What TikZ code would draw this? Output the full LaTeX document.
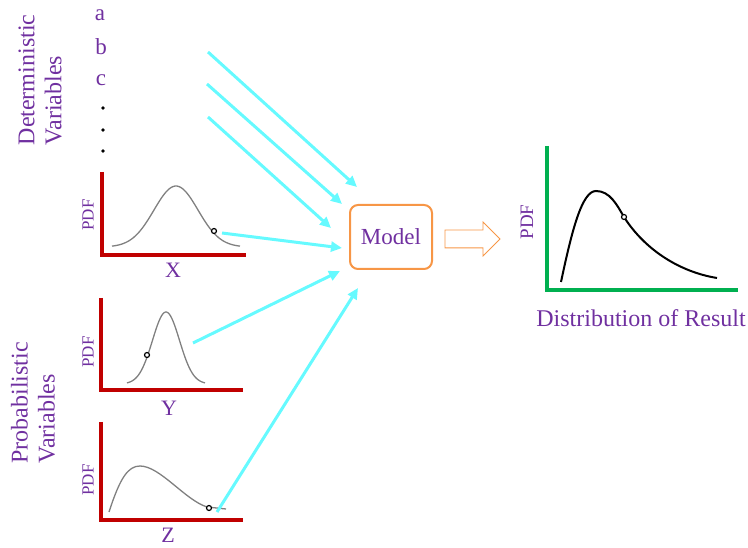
\documentclass[tikz,border=0pt]{standalone}
\usepackage{fontspec}
\setmainfont{Liberation Serif}
\usepackage{xcolor}
\usetikzlibrary{arrows.meta, shapes.arrows}

\definecolor{labelpurple}{RGB}{112,48,160}
\definecolor{axisred}{RGB}{192,0,0}
\definecolor{axisgreen}{RGB}{0,176,80}
\definecolor{modelorange}{RGB}{247,150,70}
\definecolor{feedcyan}{RGB}{102,250,255}

\begin{document}
\begin{tikzpicture}[
    x=1pt, y=-1pt,
    lbl/.style={
      text=labelpurple,
      font=\fontsize{23}{27}\selectfont,
      inner sep=0pt
    },
    side/.style={
      lbl,
      font=\fontsize{24}{27}\selectfont,
      rotate=90,
      align=left
    },
    pdf/.style={
      text=labelpurple,
      font=\fontsize{17}{19}\selectfont,
      rotate=90,
      inner sep=0pt
    },
    varname/.style={
      text=labelpurple,
      font=\fontsize{22}{24}\selectfont,
      inner sep=0pt
    },
    redaxis/.style={
      draw=axisred,
      line width=4pt
    },
    greenaxis/.style={
      draw=axisgreen,
      line width=4pt
    },
    curve/.style={
      draw=black!50,
      line width=1.3pt
    },
    pt/.style={
      circle,
      draw=black,
      fill=white,
      line width=1.2pt,
      inner sep=0pt,
      minimum size=5pt
    },
    model/.style={
      draw=modelorange,
      line width=2pt,
      rounded corners=8pt,
      minimum width=82pt,
      minimum height=64pt,
      text=labelpurple,
      font=\fontsize{23}{27}\selectfont
    },
    feed/.style={
      -{Triangle[length=11pt, width=10pt]},
      line width=3pt,
      draw=feedcyan
    }
  ]

    \useasboundingbox (0,0) rectangle (748,548);

    % Deterministic inputs
    \node[side] (detlabel) at (40,80) {Deterministic\\Variables};
    \node[lbl] (va) at (100,15) {a};
    \node[lbl] (vb) at (101,47) {b};
    \node[lbl] (vc) at (101,80) {c};
    \foreach \y in {108,130,151}
      \fill (103,\y) circle (1.8pt);

    % Probabilistic inputs
    \node[side] (problabel) at (33,403) {Probabilistic\\Variables};

    % X
    \draw[redaxis] (102,172) -- (102,255) -- (246,255);
    \draw[curve] plot[domain=112:240, samples=60, smooth] (\x, {247-61*exp(-((\x-176)^2)/(2*22^2))});
    \node[pt] (xdot) at (214,231) {};
    \node[pdf] (xpdf) at (88,215) {PDF};
    \node[varname] (xname) at (173,270) {X};

    % Y
    \draw[redaxis] (101,298) -- (101,390) -- (243,390);
    \draw[curve] plot[domain=127:205, samples=60, smooth] (\x, {384-72*exp(-((\x-166)^2)/(2*13.5^2))});
    \node[pt] (ydot) at (147,355) {};
    \node[pdf] (ypdf) at (88,352) {PDF};
    \node[varname] (yname) at (169,408) {Y};

    % Z
    \draw[redaxis] (101,422) -- (101,520) -- (243,520);
    \draw[curve] (109,512) .. controls (120,478) and (128,466) .. (140,466)
      .. controls (160,466) and (185,500) .. (207,507) -- (226,509);
    \node[pt] (zdot) at (209,508) {};
    \node[pdf] (zpdf) at (88,480) {PDF};
    \node[varname] (zname) at (168,535) {Z};

    % Model and output
    \node[model] (model) at (391,237) {Model};
    \node[single arrow, draw=modelorange, line width=0.8pt, inner xsep=0pt, inner ysep=8.5pt,
      minimum height=55pt, single arrow head extend=8pt]
      (result) at (468,239) {};

    % Result distribution
    \draw[greenaxis] (547,146) -- (547,290) -- (738,290);
    \draw[black, line width=2pt] (561,282) .. controls (572,230) and (582,191) .. (596,191)
      .. controls (610,191) and (617,205) .. (624,217)
      .. controls (645,250) and (680,272) .. (717,278);
    \node[pt] (rdot) at (624,217) {};
    \node[pdf, font=\fontsize{19}{21}\selectfont] (rpdf) at (527,222) {PDF};
    \node[lbl, font=\fontsize{24}{27}\selectfont] (rname) at (641,318) {Distribution of Result};

    % Connectors
    \coordinate (d1) at (208,52);
    \coordinate (d2) at (207,84);
    \coordinate (d3) at (208,117);
    \coordinate (xs) at (222,233);
    \coordinate (ys) at (193,343);
    \coordinate (zs) at (217,512);
    \coordinate (m1) at (357,187);
    \coordinate (m2) at (342,204);
    \coordinate (m3) at (331,228);
    \coordinate (mx) at (342,248);
    \coordinate (my) at (340,271);
    \coordinate (mz) at (358,288);

    \draw[feed] (d1) -- (m1);
    \draw[feed] (d2) -- (m2);
    \draw[feed] (d3) -- (m3);
    \draw[feed] (xs) -- (mx);
    \draw[feed] (ys) -- (my);
    \draw[feed] (zs) -- (mz);

  \end{tikzpicture}
\end{document}
